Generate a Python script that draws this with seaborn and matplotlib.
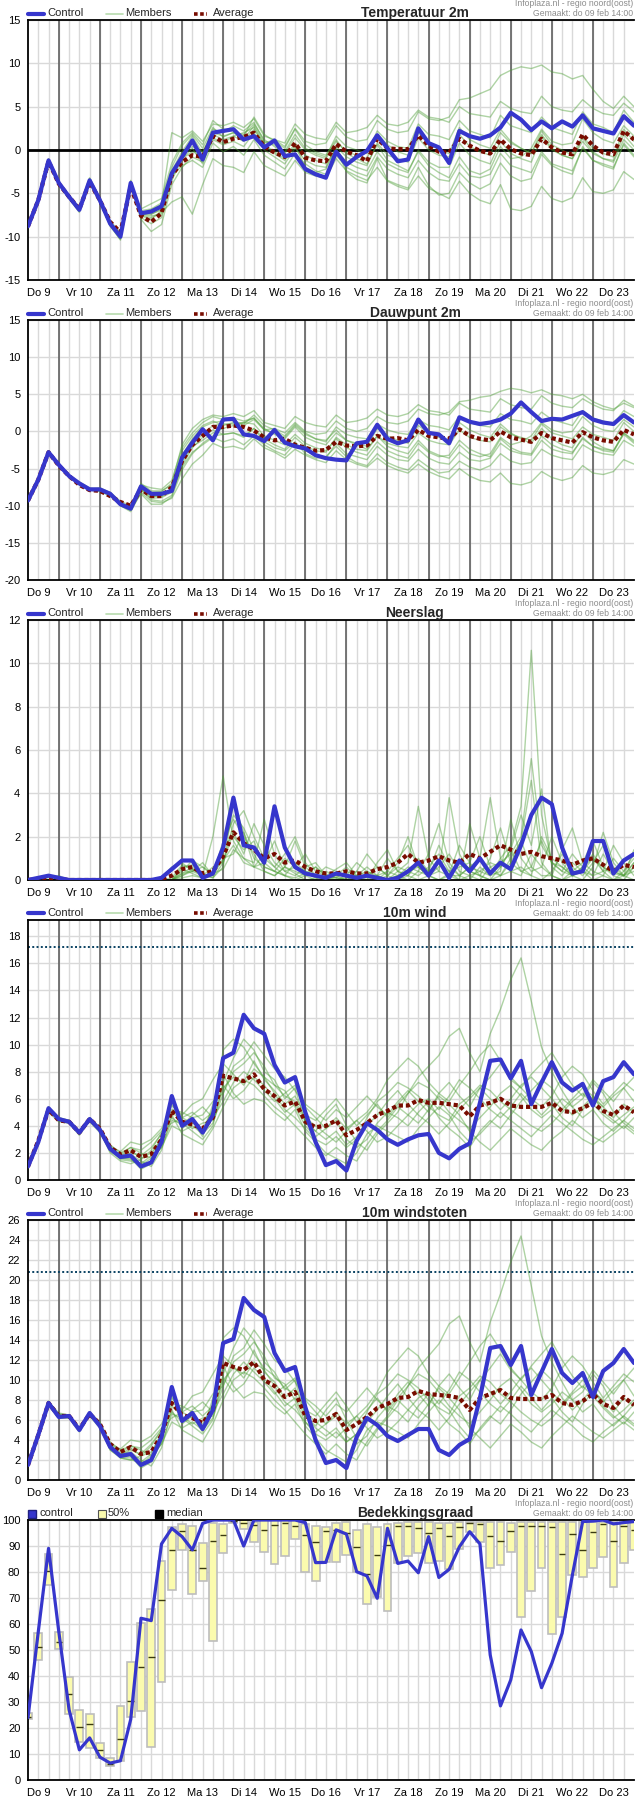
import numpy as np
import pandas as pd
import matplotlib
matplotlib.use('Agg')
import matplotlib.pyplot as plt
from matplotlib.lines import Line2D
import seaborn as sns

# 6-hourly steps, Do 9 06:00 .. Vr 24 00:00
day_labels = ['Do 9', 'Vr 10', 'Za 11', 'Zo 12', 'Ma 13', 'Di 14', 'Wo 15', 'Do 16',
              'Vr 17', 'Za 18', 'Zo 19', 'Ma 20', 'Di 21', 'Wo 22', 'Do 23']

# ---------------- Temperatuur 2m ----------------
temp_control = [-8.8, -5.8, -1.2, -3.8, -5.4, -6.9, -3.5, -5.8, -8.5, -10.0,
                -3.8, -7.3, -7.1, -6.5, -2.7, -0.8, 1.1, -1.1, 2.0, 2.2,
                2.4, 1.2, 1.6, 0.3, 1.1, -0.7, -0.5, -2.2, -2.8, -3.2,
                -0.2, -1.7, -0.8, -0.1, 1.7, 0.2, -1.3, -1.1, 2.5, 0.8,
                0.3, -1.5, 2.2, 1.6, 1.3, 1.7, 2.6, 4.3, 3.5, 2.3,
                3.3, 2.5, 3.3, 2.7, 4.0, 2.5, 2.2, 1.9, 3.9, 2.8]
temp_average = [-8.8, -5.8, -1.3, -3.9, -5.4, -6.8, -3.7, -5.8, -8.3, -9.5,
                -4.2, -7.6, -8.3, -7.3, -2.9, -1.4, -0.6, -0.8, 1.6, 0.9,
                1.3, 1.5, 2.0, 0.4, -0.3, -0.8, 0.8, -0.9, -1.2, -1.3,
                0.7, -0.2, -0.6, -1.3, 1.3, 0.2, 0.1, 0.1, 1.7, 0.5,
                -0.2, -0.3, 1.3, 0.5, -0.1, -0.4, 1.2, 0.1, -0.4, -0.6,
                1.3, 0.3, -0.3, -0.5, 1.8, 0.5, -0.3, -0.5, 2.2, 1.2]
temp_members = [
    [-8.6, -5.5, -1.0, -3.9, -5.6, -7.2, -3.2, -5.6, -8.7, -10.4,
     -3.5, -7.8, -8.5, -7.8, -3.5, -1.0, -0.2, -0.6, 1.8, 1.2,
     1.6, 1.0, 2.4, 0.5, -0.4, -1.2, 0.5, -2.0, -2.6, -2.2,
     0.2, -2.5, -3.4, -3.8, -1.0, -3.5, -4.0, -4.4, -2.0, -4.1,
     -5.2, -5.0, -2.6, -3.8, -4.5, -3.9, -1.5, -3.0, -3.6, -3.3,
     -0.5, -1.8, -2.4, -2.8, 0.4, -1.2, -1.8, -2.2, 0.8, -0.6],
    [-8.9, -5.9, -1.4, -3.7, -5.2, -6.7, -3.7, -6.0, -8.3, -9.7,
     -4.1, -7.0, -6.8, -6.1, -2.0, 0.5, 1.8, 0.2, 2.6, 1.5,
     2.0, 1.2, 2.8, 0.8, 1.2, 0.4, 2.5, 1.0, 0.6, 0.8,
     2.8, 1.5, 1.0, 1.2, 3.4, 2.4, 2.0, 2.2, 4.4, 3.6,
     3.4, 3.8, 5.8, 6.0, 6.5, 7.0, 8.6, 9.2, 9.6, 9.4,
     9.8, 9.0, 8.8, 8.2, 8.6, 7.0, 5.6, 4.8, 6.2, 5.0],
    [-8.7, -5.7, -1.1, -3.8, -5.5, -7.0, -3.4, -5.9, -8.8, -10.3,
     -3.9, -7.5, -7.8, -7.2, -6.0, -5.4, -7.4, -4.0, -1.0, -1.8,
     -2.0, -2.6, -0.2, -1.8, -2.4, -3.0, -1.2, -2.6, -3.0, -3.2,
     -1.0, -2.4, -3.0, -3.5, -2.0, -3.6, -4.2, -4.6, -3.0, -4.4,
     -5.0, -5.6, -3.6, -5.0, -5.8, -6.2, -4.0, -6.8, -7.0, -6.5,
     -4.2, -5.6, -6.0, -5.5, -3.2, -4.8, -5.0, -4.6, -2.5, -3.4],
    [-8.8, -5.8, -1.3, -3.9, -5.4, -6.8, -3.6, -5.7, -8.4, -9.8,
     -3.6, -7.1, -7.4, -6.8, -2.4, -0.2, 1.6, -0.4, 2.4, 2.0,
     2.8, 2.2, 3.2, 1.0, 0.6, -0.2, 1.8, 0.2, -0.4, -0.8,
     1.6, 0.4, 0.0, -0.4, 2.2, 1.0, 0.4, 0.2, 3.0, 1.8,
     1.6, 1.2, 3.4, 2.2, 1.8, 1.4, 4.0, 2.8, 2.4, 2.0,
     3.8, 2.6, 2.2, 1.8, 4.4, 3.0, 2.6, 2.0, 4.6, 3.2],
    [-8.9, -6.0, -1.5, -4.0, -5.3, -6.6, -3.8, -6.1, -8.2, -9.5,
     -4.4, -6.8, -6.2, -5.6, -1.5, 0.8, 2.0, 0.6, 3.4, 2.4,
     2.2, 1.6, 3.8, 1.8, 1.0, 0.2, 2.4, 0.6, -0.2, -0.6,
     1.2, -0.4, -1.0, -1.6, 0.6, -1.2, -1.8, -2.4, -0.2, -1.8,
     -2.6, -3.2, -0.8, -2.4, -2.8, -2.2, 0.4, -1.0, -0.8, 0.2,
     2.4, 1.0, 0.6, 0.8, 3.6, 2.0, 1.2, 0.8, 2.8, 1.6],
    [-8.7, -5.6, -1.2, -3.7, -5.5, -7.1, -3.3, -5.5, -8.6, -10.2,
     -4.0, -8.0, -9.4, -8.6, -4.0, -2.0, -0.8, -1.4, 1.2, 0.6,
     1.0, 0.4, 2.0, 0.0, -0.8, -1.6, 0.2, -1.2, -1.8, -2.0,
     0.4, -0.8, -1.4, -1.8, 0.8, -0.6, -1.0, -1.4, 1.4, 0.0,
     -0.6, -0.8, 1.8, 0.4, -0.2, -0.6, 2.0, 0.8, 0.2, -0.4,
     2.2, 0.6, 0.0, -0.6, 1.6, 0.2, -0.4, -0.8, 2.4, 1.0],
    [-8.8, -5.9, -1.2, -3.8, -5.3, -6.9, -3.6, -5.8, -8.5, -9.9,
     -3.7, -7.2, -6.9, -6.3, 2.0, 1.4, 2.2, 1.0, 3.0, 2.8,
     3.2, 2.6, 3.6, 1.6, 1.2, 0.8, 3.0, 1.8, 1.4, 1.2,
     3.2, 2.0, 2.2, 2.6, 4.0, 3.0, 2.8, 3.2, 4.6, 3.8,
     3.6, 3.2, 5.0, 4.2, 4.0, 3.8, 5.6, 4.8, 4.4, 4.2,
     6.2, 5.0, 4.6, 4.4, 5.8, 4.8, 4.2, 4.0, 5.4, 4.4],
    [-8.8, -5.7, -1.3, -3.9, -5.6, -7.0, -3.4, -5.9, -8.6, -10.1,
     -3.9, -7.6, -8.0, -7.0, -3.0, -1.8, -1.2, -2.0, 0.8, -0.2,
     0.4, -0.6, 1.2, -0.6, -1.4, -2.2, -0.4, -1.6, -2.4, -2.8,
     -0.6, -2.0, -2.6, -3.0, -0.8, -2.2, -2.8, -3.2, -1.2, -2.6,
     -3.4, -3.6, -1.6, -3.0, -3.2, -2.8, -0.4, -1.8, -2.2, -2.6,
     -0.2, -1.6, -2.0, -2.4, 0.2, -1.2, -1.6, -2.0, 0.6, -0.8],
    [-8.8, -5.8, -1.1, -3.7, -5.4, -6.9, -3.5, -5.7, -8.4, -9.9,
     -4.0, -7.4, -7.6, -7.4, -3.2, -0.4, 0.4, -0.2, 2.0, 1.6,
     2.0, 1.8, 3.0, 1.2, 0.4, -0.4, 1.4, 0.0, -0.6, -1.0,
     1.0, -0.2, -0.6, -1.0, 1.8, 0.6, -0.2, -0.6, 2.0, 0.8,
     0.0, -0.4, 2.6, 1.2, 0.6, 0.2, 2.4, 1.0, 0.2, -0.4,
     1.8, 0.2, -0.6, -1.0, 1.4, -0.2, -1.0, -1.4, 1.2, 0.0],
    [-8.7, -5.8, -1.3, -3.8, -5.4, -6.8, -3.6, -5.8, -8.5, -10.0,
     -3.8, -7.4, -7.4, -6.9, -2.6, -1.0, 0.2, -1.6, 1.4, 0.8,
     1.6, 2.0, 2.6, 0.6, -0.2, -1.0, 0.8, -0.6, -1.2, -1.6,
     0.0, -1.4, -2.0, -2.4, -0.2, -1.6, -2.2, -2.6, 0.0, -1.4,
     -2.0, -2.0, 0.8, -0.6, -1.2, -1.6, 1.0, -0.4, -1.0, -1.4,
     1.6, 0.0, -0.6, -1.0, 1.0, -0.4, -1.0, -1.2, 1.8, 0.4],
]

# ---------------- Dauwpunt 2m ----------------
dew_control = [-9.3, -6.5, -2.8, -4.5, -6.0, -7.0, -7.8, -7.8, -8.4, -9.8,
               -10.4, -7.4, -8.4, -8.4, -8.0, -3.5, -1.5, 0.3, -1.2, 1.6,
               1.7, -0.4, -0.6, -1.3, 0.2, -1.5, -2.0, -2.3, -3.2, -3.6,
               -3.8, -3.9, -1.6, -1.4, 0.9, -1.0, -1.6, -1.2, 1.6, -0.2,
               -0.4, -1.6, 1.9, 1.3, 1.0, 1.2, 1.6, 2.4, 3.9, 2.6,
               1.4, 1.7, 1.6, 2.1, 2.6, 1.6, 1.2, 1.0, 2.2, 1.2]
dew_average = [-9.3, -6.5, -2.8, -4.6, -6.0, -7.2, -7.9, -8.0, -8.7, -9.5,
               -10.0, -7.8, -8.7, -8.7, -7.5, -4.0, -1.8, -0.6, 0.6, 0.6,
               0.8, 0.6, 0.1, -0.8, -1.2, -1.0, -1.8, -2.2, -2.6, -2.5,
               -1.4, -1.9, -2.0, -1.9, -0.6, -1.0, -0.9, -1.2, 0.2, -0.6,
               -0.8, -1.0, 0.3, -0.6, -1.0, -1.2, 0.0, -0.8, -1.1, -1.4,
               -0.2, -0.9, -1.2, -1.5, -0.1, -0.8, -1.2, -1.4, 0.2, -0.4]
dew_members = [
    [-9.2, -6.4, -2.7, -4.6, -6.1, -7.2, -7.9, -8.0, -8.6, -10.0,
     -10.6, -7.8, -9.2, -9.4, -8.6, -4.6, -2.2, -0.8, 0.2, -0.4,
     -0.2, -0.6, 0.4, -1.4, -2.2, -2.6, -1.4, -3.0, -3.6, -3.4,
     -2.0, -3.4, -4.2, -4.6, -3.0, -4.2, -4.8, -5.2, -3.8, -4.8,
     -5.6, -5.4, -4.0, -4.8, -5.2, -4.6, -3.0, -4.0, -4.4, -4.2,
     -2.4, -3.2, -3.6, -3.8, -1.8, -2.6, -3.0, -3.2, -1.2, -2.0],
    [-9.4, -6.6, -2.9, -4.4, -5.9, -6.9, -7.7, -7.6, -8.2, -9.6,
     -10.2, -7.0, -8.0, -8.0, -7.2, -2.6, -0.6, 0.8, 1.4, 0.8,
     1.2, 0.8, 1.6, 0.2, 0.4, -0.2, 1.2, 0.0, -0.4, -0.2,
     1.4, 0.4, 0.0, 0.4, 2.0, 1.2, 1.0, 1.4, 3.0, 2.4,
     2.2, 2.6, 4.0, 4.2, 4.6, 4.8, 5.4, 5.8, 5.6, 5.2,
     5.6, 5.0, 4.8, 4.4, 5.0, 4.0, 3.4, 3.0, 3.8, 3.2],
    [-9.3, -6.5, -2.8, -4.5, -6.0, -7.0, -7.8, -7.9, -8.6, -10.0,
     -10.8, -8.2, -9.4, -9.6, -9.0, -6.4, -4.4, -3.2, -1.6, -2.2,
     -2.0, -2.4, -1.0, -2.2, -2.8, -3.6, -2.4, -3.2, -3.8, -4.2,
     -2.6, -3.8, -4.4, -4.8, -3.6, -4.6, -5.2, -5.6, -4.4, -5.4,
     -6.0, -6.4, -5.0, -6.0, -6.6, -6.8, -5.6, -7.0, -7.2, -6.8,
     -5.4, -6.2, -6.6, -6.2, -4.6, -5.6, -5.8, -5.4, -3.8, -4.4],
    [-9.3, -6.5, -2.7, -4.6, -6.0, -7.1, -7.8, -7.7, -8.3, -9.7,
     -10.3, -7.5, -8.6, -8.5, -7.8, -3.2, -1.0, 0.6, 1.2, 1.4,
     1.8, 1.4, 1.8, 0.2, -0.2, -0.8, 0.8, -0.4, -1.0, -1.4,
     0.6, -0.4, -0.8, -1.0, 1.0, 0.2, -0.2, -0.4, 1.6, 0.8,
     0.6, 0.2, 2.0, 1.2, 0.8, 0.6, 2.4, 1.6, 1.4, 1.0,
     2.6, 1.6, 1.2, 0.8, 2.8, 1.8, 1.4, 1.0, 2.8, 2.0],
    [-9.2, -6.6, -2.9, -4.6, -5.9, -6.8, -7.6, -7.9, -8.2, -9.4,
     -10.0, -7.2, -7.6, -7.8, -6.6, -2.2, -0.2, 1.2, 2.0, 1.6,
     1.4, 1.0, 2.2, 0.8, 0.2, -0.6, 1.0, -0.2, -1.0, -1.2,
     0.2, -1.2, -1.8, -2.4, -0.6, -2.0, -2.6, -3.0, -1.2, -2.6,
     -3.2, -3.6, -1.8, -3.0, -3.4, -3.0, -0.8, -1.8, -1.4, -0.6,
     1.2, 0.2, -0.2, 0.0, 2.0, 0.8, 0.2, 0.0, 1.6, 0.6],
    [-9.3, -6.4, -2.8, -4.5, -6.1, -7.1, -7.9, -7.8, -8.5, -9.9,
     -10.5, -8.4, -9.8, -9.8, -8.8, -5.2, -3.0, -1.6, -0.6, -0.4,
     -0.2, -0.8, 0.4, -1.0, -1.8, -2.4, -0.8, -2.0, -2.6, -2.8,
     -0.8, -1.8, -2.4, -2.6, -0.6, -1.6, -2.0, -2.2, -0.2, -1.2,
     -1.6, -1.8, 0.2, -0.8, -1.2, -1.4, 0.6, -0.4, -0.8, -1.2,
     1.0, -0.2, -0.6, -1.0, 0.6, -0.4, -0.8, -1.2, 1.2, 0.0],
    [-9.3, -6.5, -2.8, -4.4, -6.0, -7.0, -7.7, -7.8, -8.4, -9.8,
     -10.4, -7.3, -8.2, -8.1, -7.0, -1.8, 0.4, 1.6, 2.2, 2.0,
     2.4, 2.0, 2.8, 1.2, 0.8, 0.4, 2.0, 1.2, 0.8, 0.6,
     2.2, 1.2, 1.4, 1.8, 3.0, 2.2, 2.0, 2.4, 3.6, 2.8,
     2.6, 2.2, 3.8, 3.0, 2.8, 2.6, 4.4, 3.6, 3.2, 3.0,
     4.8, 3.8, 3.4, 3.2, 4.4, 3.6, 3.0, 2.8, 4.2, 3.4],
    [-9.3, -6.5, -2.8, -4.6, -6.1, -7.1, -7.9, -8.1, -8.7, -9.9,
     -10.6, -7.9, -9.0, -8.9, -8.2, -4.8, -2.8, -1.8, -0.8, -1.4,
     -1.0, -1.8, -0.6, -1.8, -2.6, -3.2, -1.6, -2.6, -3.2, -3.6,
     -1.6, -3.0, -3.4, -3.8, -2.0, -3.2, -3.8, -4.0, -2.4, -3.6,
     -4.2, -4.4, -2.8, -3.8, -4.0, -3.6, -1.6, -2.6, -3.0, -3.2,
     -1.2, -2.4, -2.8, -3.0, -0.8, -2.0, -2.4, -2.6, -0.4, -1.6],
    [-9.3, -6.5, -2.8, -4.5, -6.0, -7.0, -7.8, -7.8, -8.4, -9.7,
     -10.3, -7.6, -8.7, -8.8, -7.6, -3.8, -1.8, -0.4, 0.8, 1.0,
     1.0, 1.2, 1.8, 0.4, -0.4, -1.0, 0.6, -0.8, -1.4, -1.8,
     -0.2, -1.2, -1.6, -2.0, 0.4, -0.6, -1.2, -1.6, 0.8, -0.2,
     -0.8, -1.2, 1.2, 0.2, -0.4, -0.8, 1.0, -0.2, -1.0, -1.6,
     0.4, -1.0, -1.8, -2.2, 0.0, -1.4, -2.2, -2.6, -0.2, -1.4],
    [-9.2, -6.5, -2.9, -4.5, -6.0, -7.0, -7.8, -7.9, -8.5, -9.8,
     -10.4, -7.7, -8.8, -8.6, -7.8, -4.2, -2.0, -1.2, -0.2, 0.4,
     0.8, 1.2, 1.0, -0.6, -1.2, -1.8, -0.4, -1.6, -2.2, -2.6,
     -1.0, -2.2, -2.8, -3.2, -1.4, -2.6, -3.2, -3.6, -1.6, -2.8,
     -3.4, -3.2, -1.2, -2.4, -3.0, -3.4, -1.0, -2.2, -2.8, -3.0,
     -0.6, -1.8, -2.4, -2.8, -1.0, -2.0, -2.6, -2.8, -0.2, -1.2],
]

# ---------------- Neerslag ----------------
rain_control = [0.0, 0.1, 0.2, 0.1, 0.0, 0.0, 0.0, 0.0, 0.0, 0.0,
                0.0, 0.0, 0.0, 0.1, 0.5, 0.9, 0.9, 0.1, 0.3, 1.5,
                3.8, 1.6, 1.5, 0.8, 3.4, 1.5, 0.6, 0.3, 0.2, 0.1,
                0.3, 0.2, 0.1, 0.2, 0.1, 0.0, 0.1, 0.4, 0.8, 0.2,
                0.9, 0.1, 0.9, 0.4, 1.0, 0.3, 0.8, 0.5, 1.6, 3.0,
                3.8, 3.5, 1.5, 0.3, 0.4, 1.8, 1.8, 0.3, 0.9, 1.2]
rain_average = [0.0, 0.05, 0.1, 0.05, 0.0, 0.0, 0.0, 0.0, 0.0, 0.0,
                0.0, 0.0, 0.0, 0.05, 0.2, 0.5, 0.6, 0.3, 0.4, 1.1,
                2.2, 1.7, 1.4, 1.0, 1.2, 0.8, 0.9, 0.6, 0.4, 0.3,
                0.3, 0.4, 0.3, 0.3, 0.5, 0.6, 0.8, 1.2, 0.8, 0.9,
                1.1, 0.9, 0.8, 1.2, 1.0, 1.3, 1.6, 1.4, 1.2, 1.3,
                1.1, 1.0, 0.9, 0.7, 0.9, 1.0, 0.7, 0.4, 0.7, 0.6]
rain_members = [
    [0, 0, 0, 0, 0, 0, 0, 0, 0, 0,
     0, 0, 0, 0.1, 0.6, 0.8, 0.4, 0.2, 2.0, 4.8,
     1.8, 1.0, 0.6, 0.8, 0.4, 0.2, 0.1, 0.3, 0.6, 0.2,
     0.1, 0.0, 0.4, 1.2, 0.6, 0.2, 0.8, 2.0, 0.6, 0.2,
     0.0, 0.3, 1.6, 0.8, 0.2, 0.0, 0.6, 1.4, 0.4, 0.2,
     0.0, 0.4, 1.2, 0.6, 0.2, 0.8, 1.6, 0.4, 0.2, 0.6],
    [0, 0, 0.1, 0.2, 0, 0, 0, 0, 0, 0,
     0, 0, 0, 0, 0, 0.3, 0.6, 0.2, 0.1, 0.8,
     2.6, 3.2, 2.0, 1.0, 0.6, 1.2, 2.0, 0.8, 0.2, 0.1,
     0.0, 0.2, 0.8, 0.4, 0.1, 0.0, 0.2, 0.6, 0.4, 1.2,
     2.6, 0.8, 0.2, 0.6, 0.4, 0.2, 1.0, 1.6, 3.4, 10.6,
     3.0, 0.8, 0.6, 0.2, 0.4, 1.0, 0.6, 0.3, 0.2, 0.8],
    [0, 0, 0, 0, 0, 0, 0, 0, 0, 0,
     0, 0, 0, 0, 0, 0.5, 0.3, 0.1, 0.2, 1.4,
     3.0, 2.4, 1.4, 0.8, 1.8, 0.6, 0.3, 0.0, 0.1, 0.2,
     0.5, 0.8, 0.2, 0.0, 0.0, 0.4, 1.0, 1.6, 0.6, 0.2,
     0.4, 3.8, 1.2, 0.4, 0.2, 0.0, 0.2, 0.8, 1.8, 0.6,
     0.2, 0.2, 1.4, 2.4, 0.8, 0.4, 0.2, 0.0, 0.4, 1.0],
    [0, 0, 0, 0, 0, 0, 0, 0, 0, 0,
     0, 0, 0, 0, 0.1, 0.7, 0.5, 0.2, 0.6, 0.8,
     2.2, 1.2, 2.6, 1.6, 0.8, 0.4, 0.6, 1.2, 0.4, 0.2,
     0.1, 0.0, 0.0, 0.2, 0.6, 0.2, 0.0, 0.2, 1.0, 0.4,
     0.8, 0.2, 0.0, 2.6, 1.0, 0.4, 0.2, 0.4, 0.2, 1.2,
     0.6, 2.0, 0.8, 0.2, 0.0, 0.6, 2.2, 0.8, 0.2, 0.4],
    [0, 0, 0, 0, 0, 0, 0, 0, 0, 0,
     0, 0, 0, 0, 0, 0.2, 0.4, 0.6, 0.3, 0.5,
     1.4, 1.0, 0.8, 2.8, 1.2, 0.4, 0.2, 0.6, 0.8, 0.2,
     0.0, 0.1, 0.4, 0.2, 0.0, 0.2, 0.6, 0.4, 0.2, 0.6,
     1.2, 0.4, 0.6, 0.8, 2.0, 0.6, 0.2, 1.0, 1.8, 4.6,
     0.8, 0.2, 0.0, 0.2, 0.6, 1.2, 0.4, 0.0, 0.2, 1.4],
    [0, 0, 0, 0, 0, 0, 0, 0, 0, 0,
     0, 0, 0, 0, 0, 0.4, 0.9, 0.6, 0.2, 1.8,
     2.8, 2.0, 1.2, 0.4, 0.2, 0.6, 0.4, 0.2, 0.0, 0.4,
     0.2, 0.0, 0.2, 0.6, 0.2, 0.0, 0.4, 0.8, 3.4, 1.0,
     0.4, 0.2, 0.8, 0.4, 0.2, 1.0, 2.4, 0.8, 0.4, 0.6,
     1.8, 0.8, 0.4, 0.2, 0.6, 1.0, 0.4, 0.6, 0.2, 0.0],
    [0, 0, 0, 0, 0, 0, 0, 0, 0, 0,
     0, 0, 0, 0, 0, 0.1, 0.2, 0.1, 0.4, 0.9,
     1.6, 0.8, 0.6, 0.4, 0.2, 0.6, 1.8, 0.6, 0.2, 0.0,
     0.2, 0.6, 0.1, 0.0, 0.8, 1.4, 0.4, 0.2, 0.0, 0.2,
     0.6, 1.2, 0.4, 0.2, 0.0, 0.6, 0.8, 1.2, 2.0, 5.6,
     1.6, 0.8, 0.4, 1.2, 0.6, 0.2, 0.4, 1.6, 0.8, 0.2],
    [0, 0, 0, 0, 0, 0, 0, 0, 0, 0,
     0, 0, 0, 0, 0, 0.6, 0.7, 0.3, 0.1, 0.6,
     3.6, 2.2, 0.6, 1.2, 0.6, 0.2, 0.0, 0.2, 0.6, 0.2,
     0.1, 0.4, 0.2, 0.1, 0.2, 0.0, 0.2, 0.4, 0.6, 0.2,
     0.0, 0.2, 0.2, 0.6, 1.0, 3.8, 1.0, 0.4, 0.6, 0.2,
     2.0, 1.0, 0.6, 0.2, 0.4, 0.0, 0.2, 1.0, 0.4, 1.2],
    [0, 0, 0, 0, 0, 0, 0, 0, 0, 0,
     0, 0, 0, 0, 0, 0.2, 0.5, 0.2, 0.3, 1.6,
     2.0, 1.4, 1.8, 0.6, 0.4, 0.2, 0.8, 0.4, 0.1, 0.0,
     0.0, 0.0, 0.2, 0.4, 0.2, 1.0, 0.4, 0.2, 0.8, 0.4,
     1.6, 0.6, 0.2, 0.0, 0.6, 0.2, 0.4, 2.8, 1.0, 0.4,
     0.6, 0.2, 0.0, 0.4, 0.8, 1.8, 0.6, 0.2, 0.0, 0.6],
    [0, 0, 0, 0, 0, 0, 0, 0, 0, 0,
     0, 0, 0, 0, 0, 0.3, 0.4, 0.8, 0.2, 1.0,
     1.2, 2.2, 1.0, 0.6, 0.4, 1.0, 0.6, 0.4, 0.2, 0.6,
     0.4, 0.2, 0.0, 0.0, 0.2, 0.4, 0.2, 0.0, 0.4, 0.2,
     0.8, 0.4, 0.0, 0.2, 0.4, 0.8, 0.6, 1.4, 3.0, 1.6,
     4.2, 0.6, 0.2, 0.8, 0.4, 0.2, 1.2, 0.4, 0.2, 0.8],
]

# ---------------- 10m wind ----------------
wind_control = [1.0, 2.8, 5.3, 4.5, 4.3, 3.5, 4.5, 3.7, 2.3, 1.7,
                1.8, 1.0, 1.3, 2.8, 6.2, 4.0, 4.5, 3.5, 4.8, 9.0,
                9.4, 12.2, 11.2, 10.8, 8.5, 7.2, 7.6, 5.0, 2.8, 1.1,
                1.4, 0.7, 2.9, 4.2, 3.7, 3.0, 2.6, 3.0, 3.3, 3.4,
                2.0, 1.6, 2.3, 2.7, 5.7, 8.8, 8.9, 7.5, 8.8, 5.6,
                7.2, 8.7, 7.2, 6.6, 7.1, 5.5, 7.3, 7.6, 8.7, 7.8]
wind_average = [1.0, 2.9, 5.2, 4.4, 4.3, 3.5, 4.5, 3.8, 2.4, 1.9,
                2.2, 1.7, 1.9, 3.0, 5.1, 4.3, 4.1, 3.8, 4.6, 7.7,
                7.5, 7.3, 7.8, 6.7, 6.2, 5.5, 5.8, 4.3, 3.9, 4.0,
                4.4, 3.3, 3.7, 4.2, 4.8, 5.1, 5.5, 5.5, 5.9, 5.7,
                5.7, 5.6, 5.5, 4.7, 5.5, 5.7, 6.0, 5.5, 5.4, 5.4,
                5.4, 5.7, 5.1, 5.0, 5.3, 5.7, 5.1, 4.8, 5.5, 5.0]
wind_members = [
    [1.1, 2.9, 5.0, 4.3, 4.2, 3.6, 4.4, 3.6, 2.0, 1.4,
     1.2, 1.5, 2.2, 3.5, 5.5, 4.8, 5.6, 6.0, 7.4, 8.6,
     7.8, 7.0, 8.2, 7.6, 6.4, 5.2, 4.6, 3.8, 3.0, 2.6,
     3.2, 2.4, 3.0, 4.6, 5.8, 6.4, 7.2, 6.8, 6.2, 5.4,
     4.8, 4.4, 5.6, 6.2, 7.0, 6.6, 5.8, 5.2, 4.6, 4.0,
     3.6, 4.2, 5.0, 5.8, 6.4, 5.6, 4.8, 4.2, 4.8, 5.4],
    [0.9, 2.7, 5.4, 4.6, 4.4, 3.4, 4.6, 3.9, 2.6, 2.0,
     2.4, 2.0, 1.6, 2.4, 4.4, 4.2, 3.6, 3.0, 4.0, 7.2,
     9.0, 10.4, 9.6, 8.0, 7.4, 6.0, 6.8, 4.2, 3.6, 4.8,
     5.6, 4.0, 2.8, 2.2, 3.4, 4.2, 5.0, 6.4, 7.6, 8.4,
     9.2, 10.6, 11.2, 9.4, 8.0, 10.8, 12.6, 14.8, 16.4, 13.2,
     9.8, 8.0, 6.6, 5.4, 6.0, 7.2, 6.4, 5.0, 4.2, 3.6],
    [1.0, 2.8, 5.2, 4.4, 4.3, 3.5, 4.3, 3.5, 2.2, 1.6,
     1.6, 0.8, 1.2, 2.6, 5.8, 3.8, 4.4, 3.2, 5.6, 7.8,
     6.4, 5.6, 6.0, 5.8, 5.0, 4.4, 5.2, 3.6, 2.8, 2.0,
     1.6, 1.2, 2.0, 3.4, 4.0, 3.6, 3.2, 2.8, 3.8, 4.6,
     5.4, 4.8, 3.6, 2.8, 3.4, 4.2, 5.0, 4.4, 3.8, 3.2,
     4.0, 4.8, 4.2, 3.6, 3.0, 2.6, 3.2, 3.8, 4.4, 3.8],
    [1.0, 2.9, 5.4, 4.5, 4.4, 3.6, 4.6, 3.8, 2.5, 2.1,
     2.8, 2.6, 3.0, 3.8, 5.2, 5.0, 4.6, 4.8, 5.8, 6.4,
     8.4, 9.0, 10.2, 9.2, 8.2, 7.6, 6.6, 5.6, 5.0, 4.4,
     5.2, 4.6, 5.4, 6.2, 5.4, 4.8, 5.8, 6.6, 5.8, 5.0,
     6.4, 7.2, 6.2, 5.4, 6.8, 7.6, 8.6, 7.4, 6.8, 7.8,
     8.6, 9.4, 8.2, 7.0, 6.2, 7.4, 6.6, 5.8, 6.8, 7.6],
    [1.1, 2.7, 5.1, 4.5, 4.2, 3.3, 4.4, 3.6, 2.3, 1.8,
     1.9, 1.4, 1.0, 2.2, 4.8, 3.4, 3.0, 2.6, 3.8, 5.4,
     6.8, 7.4, 7.0, 6.2, 5.4, 4.8, 4.0, 3.2, 2.4, 1.8,
     2.4, 1.8, 1.4, 2.6, 3.6, 4.4, 5.4, 4.8, 4.2, 5.2,
     6.2, 5.6, 4.8, 3.6, 2.8, 2.2, 3.0, 3.8, 3.2, 2.6,
     2.2, 3.0, 3.6, 4.4, 3.8, 3.2, 2.8, 3.4, 4.0, 3.4],
    [0.9, 2.8, 5.3, 4.6, 4.4, 3.6, 4.4, 3.7, 2.4, 1.5,
     1.4, 1.2, 1.8, 3.2, 6.0, 4.6, 5.0, 4.4, 5.0, 9.6,
     10.4, 9.8, 8.6, 7.6, 7.0, 6.2, 5.8, 4.6, 4.0, 3.4,
     2.8, 3.6, 4.4, 5.0, 6.0, 7.4, 8.2, 9.0, 8.4, 7.2,
     6.4, 5.8, 7.0, 8.0, 9.2, 10.0, 8.8, 7.6, 6.8, 6.0,
     5.4, 6.2, 7.6, 8.4, 7.8, 6.6, 5.6, 6.4, 7.2, 6.6],
    [1.0, 2.8, 5.2, 4.4, 4.3, 3.5, 4.5, 3.7, 2.3, 1.7,
     2.0, 1.8, 2.4, 3.4, 4.6, 4.0, 4.8, 5.4, 4.6, 5.8,
     7.2, 8.0, 7.4, 6.6, 5.8, 6.4, 7.0, 5.4, 4.6, 3.8,
     4.4, 3.0, 2.4, 3.0, 4.2, 5.0, 4.6, 4.0, 5.0, 5.8,
     4.6, 3.8, 3.2, 2.4, 3.6, 4.4, 3.8, 4.8, 5.8, 6.6,
     7.4, 6.8, 5.6, 4.8, 5.4, 6.2, 5.0, 4.4, 3.8, 4.6],
    [1.0, 2.7, 5.2, 4.5, 4.3, 3.4, 4.5, 3.6, 2.1, 1.6,
     1.5, 1.1, 1.6, 2.4, 4.0, 3.6, 4.0, 3.4, 4.2, 6.4,
     8.0, 8.6, 9.4, 8.4, 7.0, 6.6, 5.4, 4.0, 3.2, 3.8,
     4.6, 3.8, 4.4, 3.6, 2.8, 3.2, 4.0, 4.8, 5.6, 6.0,
     5.2, 6.2, 7.4, 6.8, 6.0, 5.2, 4.6, 5.4, 6.4, 5.6,
     4.8, 5.6, 4.6, 4.0, 5.2, 6.0, 5.4, 4.6, 5.6, 5.0],
    [1.0, 2.9, 5.3, 4.4, 4.2, 3.4, 4.6, 3.8, 2.4, 1.8,
     2.2, 1.6, 2.0, 3.0, 5.0, 4.4, 3.8, 4.2, 4.4, 6.8,
     7.6, 7.2, 8.8, 7.4, 6.6, 5.6, 6.2, 4.8, 4.4, 5.2,
     6.0, 5.0, 4.0, 4.8, 5.6, 4.6, 5.6, 6.4, 7.2, 6.8,
     6.0, 5.0, 4.4, 3.8, 4.6, 5.4, 6.4, 7.0, 6.2, 5.2,
     4.6, 5.2, 6.0, 5.4, 4.6, 5.2, 4.2, 3.6, 4.4, 5.2],
    [1.0, 2.8, 5.2, 4.5, 4.3, 3.5, 4.5, 3.8, 2.4, 1.9,
     2.4, 2.2, 2.8, 3.6, 4.2, 4.6, 4.2, 3.8, 5.2, 7.0,
     6.0, 6.6, 7.6, 7.0, 6.0, 5.0, 5.6, 4.4, 3.6, 3.0,
     3.6, 2.6, 3.2, 4.0, 4.8, 5.8, 6.6, 5.6, 4.8, 4.2,
     3.4, 4.2, 5.2, 6.0, 6.8, 6.0, 5.2, 6.0, 7.0, 7.6,
     6.8, 6.0, 5.2, 6.0, 6.8, 6.2, 5.4, 6.2, 6.8, 5.8],
]

# ---------------- 10m windstoten ----------------
gust_control = [1.5, 4.5, 7.7, 6.3, 6.4, 5.0, 6.7, 5.4, 3.3, 2.4,
                2.6, 1.5, 2.0, 4.3, 9.3, 5.9, 6.7, 5.1, 7.0, 13.7,
                14.1, 18.2, 17.0, 16.3, 12.7, 10.9, 11.3, 7.3, 4.0, 1.7,
                2.0, 1.2, 4.3, 6.2, 5.5, 4.4, 3.9, 4.5, 5.1, 5.1,
                3.0, 2.5, 3.5, 4.1, 8.2, 13.2, 13.4, 11.5, 13.4, 8.5,
                10.8, 13.1, 10.7, 9.7, 10.7, 8.3, 10.9, 11.7, 13.1, 11.7]
gust_average = [1.5, 4.5, 7.7, 6.4, 6.4, 5.1, 6.6, 5.6, 3.6, 2.8,
                3.3, 2.6, 2.8, 4.5, 7.7, 6.5, 6.2, 5.7, 7.0, 11.7,
                11.3, 11.0, 11.8, 10.0, 9.4, 8.3, 8.8, 6.4, 5.9, 6.0,
                6.6, 5.0, 5.6, 6.3, 7.2, 7.6, 8.2, 8.3, 8.9, 8.6,
                8.5, 8.4, 8.2, 7.0, 8.2, 8.6, 9.0, 8.2, 8.1, 8.1,
                8.1, 8.5, 7.7, 7.5, 7.9, 8.6, 7.6, 7.2, 8.3, 7.5]
gust_members = [
    [1.6, 4.6, 7.4, 6.2, 6.2, 5.2, 6.6, 5.4, 3.0, 2.2,
     2.0, 2.4, 3.4, 5.0, 8.2, 7.0, 8.4, 8.8, 10.6, 12.4,
     11.4, 10.2, 11.8, 11.0, 9.4, 7.8, 7.0, 5.8, 4.6, 4.0,
     4.8, 3.8, 4.6, 6.8, 8.6, 9.4, 10.6, 10.0, 9.2, 8.0,
     7.2, 6.6, 8.4, 9.2, 10.4, 9.8, 8.6, 7.8, 6.8, 6.0,
     5.4, 6.2, 7.4, 8.6, 9.4, 8.4, 7.2, 6.2, 7.0, 8.0],
    [1.4, 4.4, 7.8, 6.6, 6.5, 5.0, 6.8, 5.8, 3.8, 3.0,
     3.4, 3.0, 2.4, 3.6, 6.6, 6.2, 5.4, 4.6, 6.0, 10.6,
     13.2, 15.2, 14.0, 11.8, 10.8, 9.0, 10.0, 6.4, 5.4, 7.0,
     8.2, 6.0, 4.2, 3.4, 5.0, 6.2, 7.4, 9.4, 11.2, 12.4,
     13.6, 15.6, 16.4, 13.8, 11.8, 15.8, 18.6, 21.8, 24.4, 19.4,
     14.4, 11.8, 9.8, 8.0, 8.8, 10.6, 9.4, 7.4, 6.2, 5.4],
    [1.5, 4.5, 7.6, 6.2, 6.3, 5.1, 6.4, 5.2, 3.2, 2.3,
     2.4, 1.2, 1.8, 3.8, 8.6, 5.6, 6.4, 4.8, 8.2, 11.4,
     9.4, 8.2, 8.8, 8.6, 7.4, 6.6, 7.6, 5.4, 4.2, 3.0,
     2.4, 1.8, 3.0, 5.0, 5.8, 5.4, 4.8, 4.2, 5.6, 6.8,
     8.0, 7.0, 5.4, 4.2, 5.0, 6.2, 7.4, 6.6, 5.6, 4.8,
     6.0, 7.0, 6.2, 5.4, 4.4, 3.8, 4.8, 5.6, 6.4, 5.6],
    [1.5, 4.6, 7.9, 6.5, 6.5, 5.2, 6.8, 5.6, 3.6, 3.1,
     4.0, 3.8, 4.4, 5.6, 7.6, 7.4, 6.8, 7.0, 8.6, 9.4,
     12.4, 13.2, 15.0, 13.6, 12.0, 11.2, 9.8, 8.2, 7.4, 6.4,
     7.6, 6.8, 8.0, 9.2, 8.0, 7.0, 8.6, 9.8, 8.6, 7.4,
     9.4, 10.6, 9.2, 8.0, 10.0, 11.2, 12.6, 11.0, 10.0, 11.4,
     12.6, 13.8, 12.0, 10.4, 9.2, 11.0, 9.8, 8.6, 10.0, 11.2],
    [1.6, 4.3, 7.5, 6.5, 6.2, 4.8, 6.5, 5.3, 3.4, 2.6,
     2.8, 2.0, 1.4, 3.2, 7.0, 5.0, 4.4, 3.8, 5.6, 8.0,
     10.0, 10.8, 10.2, 9.2, 8.0, 7.0, 5.8, 4.6, 3.6, 2.6,
     3.6, 2.6, 2.0, 3.8, 5.2, 6.4, 8.0, 7.0, 6.2, 7.6,
     9.2, 8.2, 7.0, 5.2, 4.2, 3.2, 4.4, 5.6, 4.8, 3.8,
     3.2, 4.4, 5.4, 6.4, 5.6, 4.8, 4.2, 5.0, 5.8, 5.0],
    [1.4, 4.5, 7.8, 6.7, 6.5, 5.2, 6.5, 5.5, 3.5, 2.2,
     2.0, 1.8, 2.6, 4.8, 8.8, 6.8, 7.4, 6.4, 7.4, 14.2,
     15.2, 14.4, 12.6, 11.2, 10.4, 9.2, 8.6, 6.8, 5.8, 5.0,
     4.2, 5.2, 6.4, 7.4, 8.8, 10.8, 12.0, 13.2, 12.4, 10.6,
     9.4, 8.6, 10.2, 11.8, 13.4, 14.6, 13.0, 11.2, 10.0, 8.8,
     8.0, 9.2, 11.2, 12.4, 11.4, 9.8, 8.2, 9.4, 10.6, 9.8],
    [1.5, 4.5, 7.7, 6.4, 6.4, 5.0, 6.7, 5.4, 3.3, 2.5,
     3.0, 2.6, 3.6, 5.0, 6.8, 5.8, 7.0, 7.8, 6.8, 8.6,
     10.6, 11.8, 10.8, 9.8, 8.6, 9.4, 10.2, 8.0, 6.8, 5.6,
     6.4, 4.4, 3.6, 4.4, 6.2, 7.4, 6.8, 5.8, 7.4, 8.6,
     6.8, 5.6, 4.8, 3.6, 5.2, 6.4, 5.6, 7.0, 8.6, 9.8,
     11.0, 10.0, 8.2, 7.0, 8.0, 9.2, 7.4, 6.4, 5.6, 6.8],
    [1.5, 4.4, 7.6, 6.5, 6.3, 4.9, 6.6, 5.3, 3.0, 2.3,
     2.2, 1.6, 2.4, 3.6, 5.8, 5.2, 5.8, 5.0, 6.2, 9.4,
     11.8, 12.6, 13.8, 12.4, 10.2, 9.6, 8.0, 5.8, 4.8, 5.6,
     6.8, 5.6, 6.4, 5.2, 4.2, 4.8, 5.8, 7.0, 8.2, 8.8,
     7.6, 9.0, 10.8, 10.0, 8.8, 7.6, 6.8, 8.0, 9.4, 8.2,
     7.0, 8.2, 6.8, 5.8, 7.6, 8.8, 8.0, 6.8, 8.2, 7.4],
    [1.5, 4.6, 7.7, 6.3, 6.2, 5.0, 6.8, 5.6, 3.5, 2.6,
     3.2, 2.4, 2.8, 4.4, 7.4, 6.4, 5.6, 6.2, 6.4, 10.0,
     11.2, 10.6, 13.0, 10.8, 9.8, 8.2, 9.2, 7.0, 6.4, 7.6,
     8.8, 7.4, 5.8, 7.0, 8.2, 6.8, 8.2, 9.4, 10.6, 10.0,
     8.8, 7.4, 6.4, 5.6, 6.8, 8.0, 9.4, 10.2, 9.0, 7.6,
     6.8, 7.6, 8.8, 8.0, 6.8, 7.6, 6.2, 5.4, 6.4, 7.6],
    [1.5, 4.5, 7.6, 6.5, 6.4, 5.1, 6.7, 5.6, 3.6, 2.8,
     3.4, 3.2, 4.0, 5.2, 6.2, 6.8, 6.2, 5.6, 7.6, 10.2,
     8.8, 9.6, 11.2, 10.2, 8.8, 7.4, 8.2, 6.4, 5.2, 4.4,
     5.2, 3.8, 4.6, 5.8, 7.0, 8.4, 9.6, 8.2, 7.0, 6.2,
     5.0, 6.2, 7.6, 8.8, 10.0, 8.8, 7.6, 8.8, 10.2, 11.2,
     10.0, 8.8, 7.6, 8.8, 10.0, 9.0, 7.8, 9.0, 10.0, 8.4],
]

# ---------------- Bedekkingsgraad ----------------
cloud_control = [24.0, 57.0, 89.1, 57.0, 27.0, 11.6, 16.2, 8.8, 6.5, 7.4,
                 23.3, 62.2, 61.3, 90.8, 96.8, 93.6, 88.5, 98.7, 100, 100,
                 100, 90.0, 100, 100, 100, 100, 100, 99.0, 83.6, 83.7,
                 96.2, 94.6, 80.1, 78.5, 69.9, 96.8, 83.3, 84.2, 79.7, 93.6,
                 77.9, 81.0, 89.7, 95.5, 90.8, 48.1, 28.5, 38.5, 57.7, 49.4,
                 35.5, 44.9, 56.4, 78.8, 99.4, 99.6, 100, 98.5, 99.0, 99.4]
cloud_low = [23.5, 46.2, 74.9, 50.4, 25.4, 14.5, 12.3, 8.4, 5.4, 7.2,
             24.1, 26.5, 12.7, 37.6, 73.1, 88.5, 71.5, 76.5, 53.5, 87.4,
             99.0, 96.5, 91.4, 87.6, 82.9, 86.2, 92.7, 80.1, 76.5, 83.7,
             84.0, 86.5, 80.1, 67.6, 70.3, 65.0, 83.6, 86.2, 87.2, 83.6,
             84.4, 81.0, 88.7, 95.5, 91.7, 81.4, 82.7, 87.6, 62.6, 72.7,
             81.4, 56.2, 62.6, 78.8, 77.9, 81.4, 85.6, 74.1, 83.3, 88.5]
cloud_high = [25.7, 56.7, 86.8, 57.1, 39.7, 26.8, 25.5, 14.4, 8.4, 28.5,
              45.3, 60.3, 65.6, 84.4, 97.4, 98.5, 97.7, 91.3, 98.7, 98.5,
              100, 100, 99.4, 100, 100, 100, 100, 98.5, 97.8, 97.2,
              98.7, 99.4, 96.2, 98.5, 97.2, 98.3, 99.0, 99.4, 99.4, 99.4,
              98.7, 98.7, 99.4, 99.4, 99.4, 99.4, 99.4, 99.0, 99.4, 99.4,
              99.4, 99.4, 99.4, 99.4, 99.4, 99.4, 99.4, 99.4, 99.4, 99.4]
cloud_median = [24.3, 51.0, 80.5, 53.0, 33.0, 20.4, 21.7, 11.6, 6.2, 15.8,
                30.4, 43.3, 47.3, 69.1, 88.5, 95.9, 88.5, 81.4, 91.9, 94.2,
                99.6, 99.0, 98.0, 96.2, 98.1, 98.9, 97.7, 94.2, 91.4, 95.8,
                96.0, 94.9, 89.5, 79.2, 86.5, 90.4, 97.7, 97.7, 96.8, 94.9,
                96.8, 93.8, 97.2, 99.0, 98.3, 93.8, 91.8, 95.8, 97.8, 97.8,
                97.8, 97.2, 86.8, 94.5, 88.5, 95.3, 98.3, 91.8, 97.7, 96.2]

BLUE = '#3636cc'
GREEN = '#4c9e35'
RED = '#780c00'
GRID = '#d9d9d9'
DAY = '#606060'
W, H = 635, 1800

sns.set_style('white')
plt.rcParams['font.family'] = ['Liberation Sans', 'DejaVu Sans']
plt.rcParams['axes.linewidth'] = 1.3

fig = plt.figure(figsize=(W / 100, H / 100), dpi=100)


def fx(px):
    return px / W


def fy(py):
    return 1 - py / H


def hours(vals):
    return 6 + 6 * np.arange(len(vals))


def make_axes(k, ylim, yticks, daylines=True):
    top = 300 * k
    ax = fig.add_axes([fx(28), fy(top + 280), 606 / W, 260 / H])
    ax.set_xlim(6, 360)
    ax.set_ylim(*ylim)
    for h in range(12, 360, 6):
        ax.axvline(h, color=GRID, lw=1, zorder=0)
    if daylines:
        for h in range(24, 360, 24):
            ax.axvline(h, color=DAY, lw=1.2, zorder=0.5)
    for y in yticks:
        ax.axhline(y, color=GRID, lw=1, zorder=0)
    ax.set_yticks(yticks)
    ax.set_yticklabels([str(t) for t in yticks])
    xt = list(range(6, 361, 6))
    ax.set_xticks(xt)
    ax.set_xticklabels([day_labels[(h - 12) // 24] if (h - 12) % 24 == 0 and h < 360 else '' for h in xt])
    ax.tick_params(axis='both', length=4, width=1, pad=1.5, labelsize=8, colors='black', direction='out')
    ax.spines['right'].set_visible(False)
    for s in ('left', 'top', 'bottom'):
        ax.spines[s].set_color('black')
    ax.set_xlabel('')
    ax.set_ylabel('')
    return ax


def header(k, title):
    top = 300 * k
    fig.text(fx(415), fy(top + 13), title, ha='center', va='center', fontsize=10, fontweight='bold')
    fig.text(fx(633), fy(top + 4), 'Infoplaza.nl - regio noord(oost)', ha='right', va='center',
             fontsize=6.2, color='#8c8c8c')
    fig.text(fx(633), fy(top + 14), 'Gemaakt: do 09 feb 14:00', ha='right', va='center',
             fontsize=6.2, color='#8c8c8c')


def line_legend(k):
    y = fy(300 * k + 13.5)
    fig.add_artist(Line2D([fx(28), fx(44)], [y, y], color=BLUE, lw=3))
    fig.text(fx(47), y, 'Control', ha='left', va='center', fontsize=8)
    fig.add_artist(Line2D([fx(106), fx(123)], [y, y], color='#b8dcae', lw=1.2))
    fig.text(fx(125), y, 'Members', ha='left', va='center', fontsize=8)
    fig.add_artist(Line2D([fx(194), fx(207)], [y, y], color=RED, lw=2.6, ls=(0, (1, 0.7))))
    fig.text(fx(213), y, 'Average', ha='left', va='center', fontsize=8)


def ensemble_panel(k, title, control, average, members, ylim, yticks, zero=False, limit=None):
    ax = make_axes(k, ylim, yticks)
    if zero:
        ax.axhline(0, color='black', lw=2, zorder=1)
    if limit is not None:
        ax.axhline(limit, color='#0a4262', lw=1.4, ls=(0, (1, 1.2)), zorder=1)
    long = pd.DataFrame([(m, 6 + 6 * i, v) for m, row in enumerate(members) for i, v in enumerate(row)],
                        columns=['member', 'hour', 'value'])
    sns.lineplot(data=long, x='hour', y='value', units='member', estimator=None,
                 color=GREEN, alpha=0.45, lw=1, ax=ax, zorder=2)
    sns.lineplot(x=hours(average), y=average, color=RED, lw=3, ls=(0, (1, 0.7)), ax=ax, zorder=3)
    sns.lineplot(x=hours(control), y=control, color=BLUE, lw=3, ax=ax, zorder=4)
    ax.set_xlabel('')
    ax.set_ylabel('')
    header(k, title)
    line_legend(k)


ensemble_panel(0, 'Temperatuur 2m', temp_control, temp_average, temp_members,
               (-15, 15), list(range(-15, 16, 5)), zero=True)
ensemble_panel(1, 'Dauwpunt 2m', dew_control, dew_average, dew_members,
               (-20, 15), list(range(-20, 16, 5)))
ensemble_panel(2, 'Neerslag', rain_control, rain_average, rain_members,
               (0, 12), list(range(0, 13, 2)))
ensemble_panel(3, '10m wind', wind_control, wind_average, wind_members,
               (0, 19.2), list(range(0, 19, 2)), limit=17.2)
ensemble_panel(4, '10m windstoten', gust_control, gust_average, gust_members,
               (0, 26), list(range(0, 27, 2)), limit=20.8)

# cloud cover panel
ax = make_axes(5, (0, 100), list(range(0, 101, 10)), daylines=False)
h = hours(cloud_low)
ax.bar(h, np.array(cloud_high) - np.array(cloud_low), bottom=cloud_low, width=4.6,
       color='#fbfbae', edgecolor='#bdbdbd', lw=1.2, zorder=2)
ax.hlines(cloud_median, h - 1.9, h + 1.9, color='#3a3a10', lw=1, zorder=3)
sns.lineplot(x=hours(cloud_control), y=cloud_control, color=BLUE, lw=2.3, ax=ax, zorder=4)
ax.set_xlabel('')
ax.set_ylabel('')
header(5, 'Bedekkingsgraad')
y = fy(1500 + 13.5)
fig.add_artist(Line2D([fx(32)], [y], marker='s', ms=6, color=BLUE, mec='#202080', lw=0))
fig.text(fx(40), y, 'control', ha='left', va='center', fontsize=8)
fig.add_artist(Line2D([fx(101.5)], [y], marker='s', ms=6, color='#fbfbae', mec='#555555', mew=0.8, lw=0))
fig.text(fx(108), y, '50%', ha='left', va='center', fontsize=8)
fig.add_artist(Line2D([fx(158.5)], [y], marker='s', ms=6, color='black', lw=0))
fig.text(fx(166), y, 'median', ha='left', va='center', fontsize=8)

fig.savefig('out.png', dpi=100, facecolor='white')
